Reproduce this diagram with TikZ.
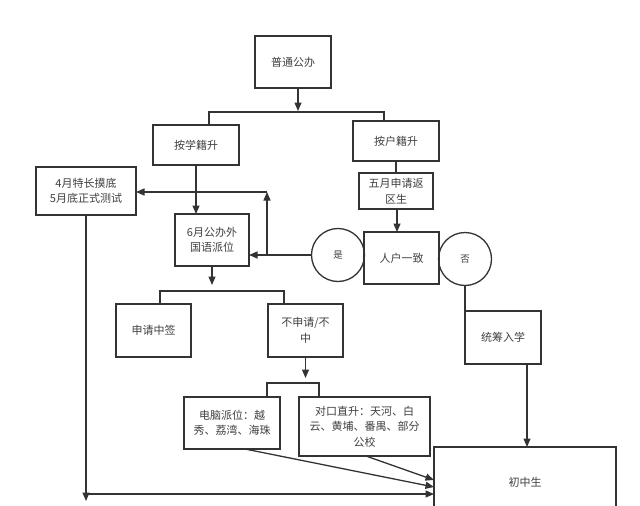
\documentclass[tikz,border=0pt]{standalone}
\usepackage{fontspec}
\newfontfamily\cjk{Noto Sans CJK SC}
\usetikzlibrary{arrows.meta}
\definecolor{ln}{HTML}{333333}
\definecolor{tx}{HTML}{404040}
\tikzset{
  box/.style={draw=ln, line width=1.3pt, rectangle, inner sep=0pt, outer sep=0pt, align=center, text=tx, font=\cjk\fontsize{11}{15.5}\selectfont},
  circ/.style={draw=ln, line width=1.3pt, circle, minimum size=53pt, inner sep=0pt, outer sep=0pt, text=tx, font=\cjk\fontsize{9.5}{12}\selectfont},
  conn/.style={draw=ln, line width=1.3pt},
  arr/.style={conn, -{Triangle[length=8.5pt,width=7pt]}}
}
\begin{document}
\begin{tikzpicture}[x=1pt,y=-1pt]
\fill[white] (0,0) rectangle (640,506);
\useasboundingbox (0,0) rectangle (640,506);
% boxes
\node[box, minimum width=76pt, minimum height=52pt] (gp) at (293,62) {普通公办};
\node[box, minimum width=86pt, minimum height=40pt] (xj) at (196,145) {按学籍升};
\node[box, minimum width=86pt, minimum height=40pt] (hj) at (396,141) {按户籍升};
\node[box, minimum width=74pt, minimum height=36pt] (wy) at (396,191) {五月申请返\\区生};
\node[box, minimum width=75pt, minimum height=52pt] (rh) at (401.5,258) {人户一致};
\node[circ] (shi) at (338,255) {是};
\node[circ] (fou) at (465,259) {否};
\node[box, minimum width=74pt, minimum height=52pt] (liu) at (212,240) {6月公办外\\国语派位};
\node[box, minimum width=100pt, minimum height=48pt] (si) at (86,191) {4月特长摸底\\5月底正式测试};
\node[box, minimum width=75pt, minimum height=53pt] (sq) at (153.5,330.5) {申请中签};
\node[box, minimum width=75pt, minimum height=53pt] (bsq) at (305.5,330.5) {不申请/不\\中};
\node[box, minimum width=96pt, minimum height=52pt] (dn) at (232,423) {电脑派位：越\\秀、荔湾、海珠};
\node[box, minimum width=131pt, minimum height=59pt] (dk) at (364.5,426.5) {对口直升：天河、白\\云、黄埔、番禺、部分\\公校};
\node[box, minimum width=76pt, minimum height=53pt] (tc) at (503,337.5) {统筹入学};
\node[box, minimum width=182pt, minimum height=70pt] (cz) at (525,482) {初中生};
% connectors
\draw[arr] (gp.south -| 298,0) -- (298,111) coordinate (b1);
\draw[conn] (xj.north -| 209,0) -- (209,112) -- (384,112) -- (hj.north -| 384,0);
\draw[conn] (hj.south) -- (wy.north);
\draw[arr] (wy.south -| 397,0) -- (rh.north -| 397,0);
\draw[arr] (shi.west) -- (shi.west -| liu.east);
\coordinate (jn) at (267,255);
\coordinate (tp) at (267,192);
\draw[arr] (jn) -- (tp);
\draw[arr] (tp) -- (si.east |- tp);
\draw[arr] (xj.south) -- (xj.south |- liu.north);
\draw[arr] (liu.south) -- (212,285);
\draw[conn] (sq.north -| 160,0) -- (160,291) -- (284,291) -- (bsq.north -| 284,0);
\draw[arr] (bsq.south) -- (305.5,378);
\draw[conn] (dn.north -| 267,0) -- (267,383) -- (319,383) -- (dk.north -| 319,0);
\draw[arr] (si.south) -- (86,501);
\coordinate (bl) at (86,494);
\draw[arr] (bl) -- (cz.west |- bl);
\draw[arr] (dn.south -| 245,0) -- (cz.west |- 0,487);
\draw[arr] (dk.south -| 366,0) -- (cz.west |- 0,480);
\draw[conn] (fou.south) -- (fou.south |- tc.north);
\draw[arr] (tc.south -| 527,0) -- (cz.north -| 527,0);
\end{tikzpicture}
\end{document}
